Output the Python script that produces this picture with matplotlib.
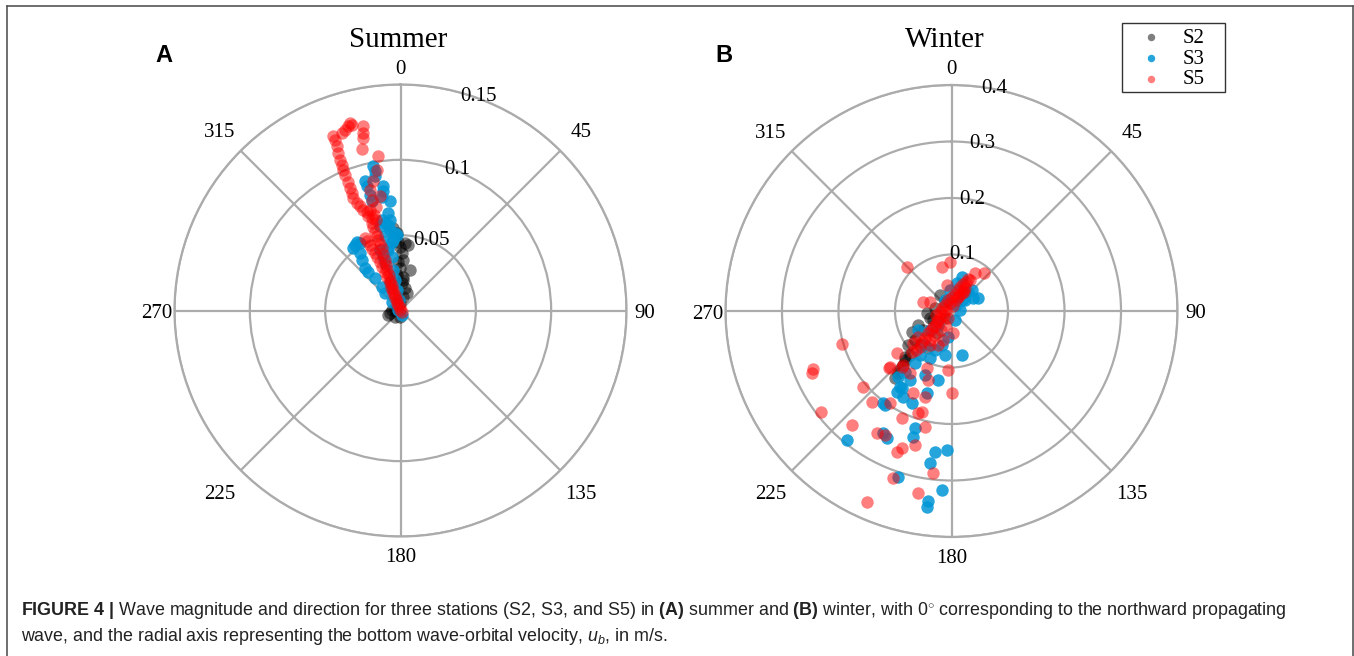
import numpy as np
import matplotlib
matplotlib.use("Agg")
import matplotlib.pyplot as plt
from matplotlib import font_manager
from matplotlib.lines import Line2D
from matplotlib.patches import Rectangle
from matplotlib.transforms import offset_copy

# wave direction (deg, clockwise from north) and bottom orbital velocity u_b (m/s)
summer_s2_dir = [3.8, 6.8, 359.6, 1.2, 3.2, 13.2, 359.3, 4.7, 2.5, 11.5, 11.5, 356, 273.3, 249.8, 221.6, 340,
                 358.2, 357.2, 355, 19.8, 275.2, 255.1, 184.6, 5.2, 357, 354.4]
summer_s2_ub = [0.0448, 0.0439, 0.0424, 0.0381, 0.0336, 0.0277, 0.0281, 0.0226, 0.0181, 0.0151, 0.0094, 0.0048,
                0.0059, 0.0086, 0.0055, 0.0204, 0.0458, 0.0514, 0.0549, 0.0122, 0.0037, 0.0072, 0.0041, 0.0204,
                0.0323, 0.0237]

summer_s3_dir = [349.3, 349.6, 349.2, 344.6, 344.7, 352.1, 351.8, 350.6, 354.5, 345.2, 345.2, 352.8, 353.4, 351.9,
                 348.3, 346.3, 355.9, 354.2, 348.1, 349.2, 349.9, 352.6, 357.1, 352.7, 348.6, 350.7, 349.9, 349.8,
                 349.5, 353.5, 165.1, 341.8, 342.3, 341.3, 325.2, 327.5, 328.9, 322.8, 324.7, 322.5, 319.9, 320.3,
                 321.6, 321.7, 318, 315, 282.8]
summer_s3_ub = [0.0974, 0.0939, 0.0906, 0.0889, 0.0854, 0.0836, 0.0798, 0.0763, 0.0727, 0.0795, 0.0749, 0.0652,
                0.0606, 0.0574, 0.0615, 0.0574, 0.0515, 0.0471, 0.0502, 0.0432, 0.0589, 0.054, 0.0503, 0.0461,
                0.0411, 0.0363, 0.0274, 0.0206, 0.0139, 0.007, 0.0031, 0.033, 0.0376, 0.0425, 0.0531, 0.0543,
                0.0522, 0.0519, 0.0466, 0.0424, 0.0367, 0.0335, 0.0273, 0.0202, 0.0154, 0.0083, 0.0015]

summer_s5_dir = [338.9, 339, 338.7, 338.4, 338.1, 338, 337.8, 337.7, 337.9, 337.5, 337.4, 337.2, 337.8, 338.7,
                 339.7, 341.1, 341.1, 341.7, 342.1, 342.5, 343.2, 342.9, 341.9, 341, 340.6, 340.1, 315, 341.8,
                 342.3, 342.9, 343.1, 342.3, 341.6, 341, 340.5, 338.2, 343.1, 344.5, 344.9, 342.9, 333.9, 334.6,
                 335, 335.5, 336.1, 336.5, 337.1, 337.5, 338.1, 338.5, 339.1, 338.2, 336.8, 336.3, 335, 341.6, 135,
                 344.9, 344.1, 342.8, 345.3, 341.8, 348.6, 348, 347.8, 346.5, 351.8, 350.4, 348.1, 345.8, 345.5,
                 349.8, 346.7]
summer_s5_ub = [0.124, 0.1215, 0.1169, 0.1125, 0.1079, 0.1044, 0.1009, 0.0974, 0.0924, 0.088, 0.0844, 0.081, 0.077,
                0.0741, 0.0713, 0.0693, 0.066, 0.0611, 0.0551, 0.0492, 0.0432, 0.0351, 0.0283, 0.0215, 0.0145,
                0.0074, 0.0005, 0.0585, 0.052, 0.0463, 0.0393, 0.0318, 0.0249, 0.0179, 0.0109, 0.0039, 0.0699,
                0.0659, 0.0624, 0.0644, 0.0537, 0.0512, 0.0481, 0.0449, 0.0418, 0.0384, 0.035, 0.0313, 0.0276,
                0.0236, 0.0196, 0.0161, 0.0127, 0.0091, 0.0055, 0.0021, 0.0011, 0.129, 0.1271, 0.1252, 0.1276,
                0.1243, 0.1247, 0.1205, 0.1172, 0.1103, 0.1034, 0.0948, 0.0876, 0.0827, 0.0759, 0.0774, 0.0707]

winter_s2_dir = [324.3, 265.3, 242, 232, 225.3, 223.3, 220.8, 236.3, 213.4, 223.5, 221.9, 231.5, 247.3, 252, 280.3,
                 324.2, 221.1, 220.1, 222.8, 212.4, 244.1, 222.9]
winter_s2_ub = [0.035, 0.044, 0.079, 0.098, 0.116, 0.107, 0.145, 0.061, 0.047, 0.12, 0.129, 0.083, 0.064, 0.04,
                0.03, 0.02, 0.139, 0.155, 0.082, 0.078, 0.036, 0.017]

winter_s3_dir = [17.2, 11.1, 58.8, 63.9, 44.3, 166.6, 191.1, 188.4, 204.6, 214.1, 213.9, 209.4, 203.2, 196.6,
                 216.7, 197.3, 197, 209.3, 206.9, 219, 181.9, 186.7, 188.1, 197.9, 183, 187.1, 187.1, 219, 212.7,
                 215.3, 240.4, 228.5, 187.7, 158.7, 83.3, 50.8, 41, 355.9, 329.4, 224, 217.9, 202.9, 215.6, 195.6,
                 215.1, 211, 202.5, 217.3, 36.9, 43.7]
winter_s3_ub = [0.063, 0.051, 0.045, 0.052, 0.052, 0.08, 0.125, 0.079, 0.092, 0.163, 0.173, 0.175, 0.178, 0.152,
                0.203, 0.217, 0.234, 0.248, 0.253, 0.294, 0.247, 0.252, 0.271, 0.309, 0.318, 0.338, 0.35, 0.151,
                0.162, 0.204, 0.068, 0.051, 0.047, 0.017, 0.015, 0.031, 0.045, 0.037, 0.023, 0.034, 0.076, 0.075,
                0.096, 0.063, 0.113, 0.143, 0.123, 0.136, 0.013, 0.027]

winter_s5_dir = [314.7, 347.8, 358.2, 31.7, 40.5, 350.2, 30.8, 28.7, 287.5, 292.7, 24.9, 253.2, 212.3, 196.3,
                 176.1, 232.2, 230.3, 227.7, 221.5, 203.3, 213.8, 183.4, 229.3, 198.8, 179.7, 205.2, 221.1, 197.1,
                 213.8, 198.2, 196.3, 204.8, 221.1, 192.9, 211.4, 208.2, 195.2, 199.9, 201.1, 186.5, 199.3, 190.5,
                 203.9, 247.3, 246, 232.3, 232.4, 227.6, 221.9, 312.7, 342.3, 2, 11.6, 17.2, 19.5, 23.1, 26.6,
                 27.3, 280.3, 241.9, 238.7, 232.8, 227.7, 227.2, 287.5, 349.4, 22.2, 30.3, 30.4, 265, 16.7, 26.6,
                 33.3, 236.3, 229.1, 226.9, 224.5, 223.6, 221.2, 222.3, 223.9, 216.1, 201.7, 208.9, 216.6, 206.6,
                 255.5, 204.9]
winter_s5_ub = [0.111, 0.08, 0.087, 0.079, 0.089, 0.047, 0.064, 0.042, 0.053, 0.041, 0.027, 0.203, 0.071, 0.054,
                0.039, 0.075, 0.089, 0.148, 0.133, 0.11, 0.132, 0.105, 0.207, 0.129, 0.145, 0.161, 0.214, 0.16,
                0.196, 0.19, 0.187, 0.209, 0.268, 0.211, 0.254, 0.25, 0.246, 0.258, 0.268, 0.289, 0.314, 0.327,
                0.37, 0.266, 0.271, 0.293, 0.122, 0.15, 0.129, 0.016, 0.02, 0.025, 0.031, 0.039, 0.045, 0.052,
                0.058, 0.064, 0.01, 0.015, 0.024, 0.032, 0.04, 0.05, 0.018, 0.014, 0.021, 0.037, 0.047, 0.02,
                0.009, 0.03, 0.04, 0.029, 0.043, 0.057, 0.067, 0.076, 0.085, 0.094, 0.101, 0.053, 0.065, 0.039,
                0.064, 0.014, 0.028, 0.027]

stations = ["S2", "S3", "S5"]
station_colors = {"S2": ("black", 0.5), "S3": ("#0096d6", 0.85), "S5": ("red", 0.5)}

summer_rticks = [0.05, 0.1, 0.15]
winter_rticks = [0.1, 0.2, 0.3, 0.4]
theta_ticks = [0, 45, 90, 135, 180, 225, 270, 315]

SERIF = "Liberation Serif"
names = {f.name for f in font_manager.fontManager.ttflist}
CAPTION_FONT = "Liberation Sans Narrow" if "Liberation Sans Narrow" in names else "Liberation Sans"

plt.rcParams["mathtext.fontset"] = "custom"
plt.rcParams["mathtext.rm"] = CAPTION_FONT
plt.rcParams["mathtext.it"] = CAPTION_FONT + ":italic"
plt.rcParams["mathtext.bf"] = CAPTION_FONT + ":bold"

GRID = "#ababab"


def rose(ax, data, rticks, rlabel_dirs, rlabel_pad):
    ax.set_theta_zero_location("N")
    ax.set_theta_direction(-1)
    for st in stations:
        d, ub = data[st]
        c, a = station_colors[st]
        ax.scatter(np.radians(d), ub, s=80, color=c, alpha=a, linewidths=0, label=st, zorder=3)
    rmax = rticks[-1]
    ax.set_ylim(0, rmax)
    ax.set_yticks(rticks)
    ax.set_yticklabels([])
    ax.set_xticks(np.radians(theta_ticks))
    ax.set_xticklabels([])
    ax.grid(True, color=GRID, lw=1.6)
    ax.spines["polar"].set_color(GRID)
    ax.spines["polar"].set_linewidth(1.6)
    # direction labels: diagonal ones sit a little further out
    shifted = offset_copy(ax.transData, fig=ax.figure, x=0, y=-3, units="dots")
    for t in theta_ticks:
        f = 1.08 if t % 90 == 0 else 1.13
        ax.text(np.radians(t), rmax * f, str(t), ha="center", va="center",
                fontsize=15, family=SERIF, clip_on=False, transform=shifted)
    for r, a in zip(rticks, rlabel_dirs):
        ax.text(np.radians(a), r + rlabel_pad * rmax, f"{r:g}", ha="center", va="center",
                fontsize=15, family=SERIF, zorder=4, clip_on=False)


fig = plt.figure(figsize=(13.54, 6.56), dpi=100)
W, H = 1354, 656

ax_a = fig.add_axes([174.5 / W, 1 - 536.5 / H, 452 / W, 452 / H], projection="polar")
ax_b = fig.add_axes([725.5 / W, 1 - 537 / H, 452 / W, 452 / H], projection="polar")

rose(ax_a, {"S2": (summer_s2_dir, summer_s2_ub), "S3": (summer_s3_dir, summer_s3_ub),
            "S5": (summer_s5_dir, summer_s5_ub)}, summer_rticks, [24, 22, 20], 0.008)
rose(ax_b, {"S2": (winter_s2_dir, winter_s2_ub), "S3": (winter_s3_dir, winter_s3_ub),
            "S5": (winter_s5_dir, winter_s5_ub)}, winter_rticks, [11, 10.5, 10.6, 11], 0.003)

fig.text(398.5 / W, 1 - 47 / H, "Summer", ha="center", va="baseline", fontsize=21, family=SERIF)
fig.text(945 / W, 1 - 47 / H, "Winter", ha="center", va="baseline", fontsize=21, family=SERIF)
fig.text(164 / W, 1 - 62 / H, "A", ha="center", va="baseline", fontsize=17, weight="bold",
         family="Liberation Sans")
fig.text(724 / W, 1 - 62 / H, "B", ha="center", va="baseline", fontsize=17, weight="bold",
         family="Liberation Sans")

handles, labels = ax_b.get_legend_handles_labels()
fig.legend(handles, labels, loc="upper left", bbox_to_anchor=(1122 / W, 1 - 20 / H),
           bbox_transform=fig.transFigure, borderaxespad=0, frameon=False,
           prop={"family": SERIF, "size": 15}, markerscale=0.6,
           labelspacing=0.05, handletextpad=0.5, borderpad=0.4, handlelength=2.0)
fig.add_artist(Rectangle((1122 / W, 1 - 92 / H), 103 / W, 69 / H, transform=fig.transFigure,
                         fill=False, edgecolor="#333333", lw=1.0))

# caption under the panels
line1 = (r"$\mathbf{FIGURE\ 4\ |}$ Wave magnitude and direction for three stations (S2, S3, and S5) in "
         r"$\mathbf{(A)}$ summer and $\mathbf{(B)}$ winter, with 0$^{\circ}$ corresponding to the northward "
         r"propagating")
line2 = r"wave, and the radial axis representing the bottom wave-orbital velocity, $u_b$, in m/s."
fig.text(21 / W, 1 - 615 / H, line1, ha="left", va="baseline", fontsize=12.9, family=CAPTION_FONT,
         color="#222222")
fig.text(21 / W, 1 - 641 / H, line2, ha="left", va="baseline", fontsize=12.9, family=CAPTION_FONT,
         color="#222222")

# frame round the figure panel
for xs, ys in [([7 / W, 7 / W], [0, 1 - 6 / H]), ([7 / W, 1353 / W], [1 - 6 / H, 1 - 6 / H]),
               ([1353 / W, 1353 / W], [1 - 6 / H, 0])]:
    fig.add_artist(Line2D(xs, ys, transform=fig.transFigure, color="#555555", lw=1.2))

fig.savefig("out.png", dpi=100)
